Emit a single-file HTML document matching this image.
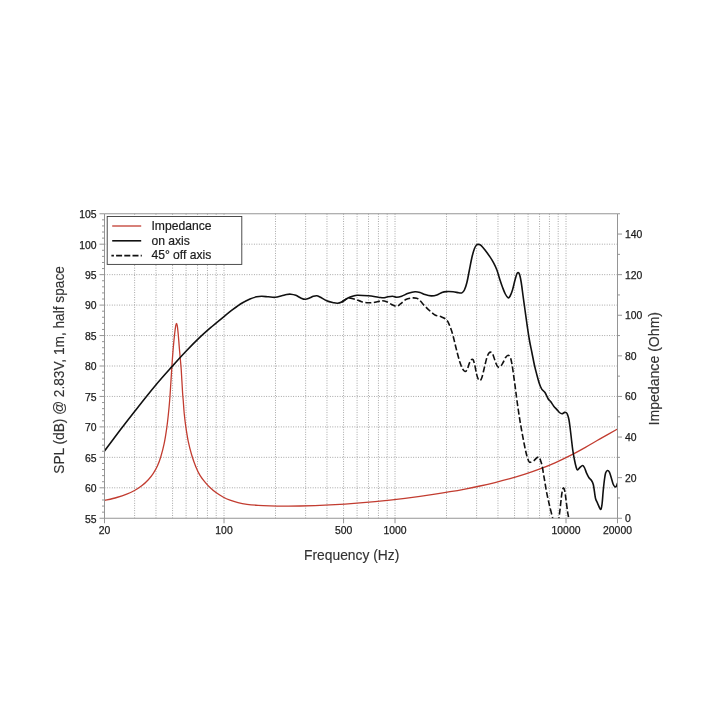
<!DOCTYPE html>
<html lang="en"><head><meta charset="utf-8"><title>Frequency response</title>
<style>html,body{margin:0;padding:0;background:#fff}body{width:720px;height:720px;overflow:hidden}svg{display:block}text{font-family:"Liberation Sans",Arial,Helvetica,sans-serif}.tk{font-size:10.4px;fill:#1c1c1c;stroke:#1c1c1c;stroke-width:0.25px}.lb{font-size:14.4px;fill:#333;stroke:#333;stroke-width:0.15px}.lg{font-size:12.15px;fill:#1c1c1c;stroke:#1c1c1c;stroke-width:0.2px}</style></head><body>
<svg width="720" height="720" viewBox="0 0 720 720">
<rect width="720" height="720" fill="#fff"/>
<defs><clipPath id="cp"><rect x="104.50" y="213.75" width="513.00" height="304.50"/></clipPath></defs>
<path d="M104.50 487.80H617.50M104.50 457.35H617.50M104.50 426.90H617.50M104.50 396.45H617.50M104.50 366.00H617.50M104.50 335.55H617.50M104.50 305.10H617.50M104.50 274.65H617.50M104.50 244.20H617.50M134.61 213.75V518.25M155.98 213.75V518.25M172.55 213.75V518.25M186.09 213.75V518.25M197.54 213.75V518.25M207.45 213.75V518.25M216.20 213.75V518.25M224.02 213.75V518.25M275.50 213.75V518.25M305.61 213.75V518.25M326.98 213.75V518.25M343.55 213.75V518.25M357.09 213.75V518.25M368.54 213.75V518.25M378.45 213.75V518.25M387.20 213.75V518.25M395.02 213.75V518.25M446.50 213.75V518.25M476.61 213.75V518.25M497.98 213.75V518.25M514.55 213.75V518.25M528.09 213.75V518.25M539.54 213.75V518.25M549.45 213.75V518.25M558.20 213.75V518.25M566.02 213.75V518.25" stroke="#838383" stroke-width="0.78" stroke-dasharray="0.9 1.55" fill="none"/>
<g clip-path="url(#cp)" fill="none" stroke-linejoin="round">
<path d="M104.50 500.50C106.53 500.00 113.00 498.55 116.70 497.50C120.40 496.45 123.73 495.37 126.70 494.20C129.67 493.03 132.00 491.90 134.50 490.50C137.00 489.10 139.40 487.60 141.70 485.80C144.00 484.00 146.37 481.78 148.30 479.70C150.23 477.62 151.77 475.62 153.30 473.30C154.83 470.98 156.25 468.57 157.50 465.80C158.75 463.03 159.68 460.45 160.80 456.70C161.92 452.95 163.22 448.03 164.20 443.30C165.18 438.57 166.02 433.02 166.70 428.30C167.38 423.58 167.80 419.72 168.30 415.00C168.80 410.28 169.27 405.50 169.70 400.00C170.13 394.50 170.50 388.12 170.90 382.00C171.30 375.88 171.70 369.05 172.10 363.30C172.50 357.55 172.88 352.35 173.30 347.50C173.72 342.65 174.20 337.82 174.60 334.20C175.00 330.58 175.38 327.62 175.70 325.80C176.02 323.98 176.23 323.30 176.50 323.30C176.77 323.30 177.00 323.85 177.30 325.80C177.60 327.75 177.97 331.38 178.30 335.00C178.63 338.62 178.95 343.33 179.30 347.50C179.65 351.67 180.08 356.25 180.40 360.00C180.72 363.75 180.88 364.50 181.25 370.00C181.62 375.50 182.28 388.00 182.60 393.00C182.92 398.00 182.93 396.62 183.20 400.00C183.47 403.38 183.77 408.85 184.20 413.30C184.63 417.75 185.12 421.97 185.80 426.70C186.48 431.43 187.32 436.98 188.30 441.70C189.28 446.42 190.45 450.83 191.70 455.00C192.95 459.17 194.42 463.30 195.80 466.70C197.18 470.10 198.47 472.85 200.00 475.41C201.53 477.97 203.33 480.07 205.00 482.08C206.67 484.09 208.17 485.74 210.00 487.49C211.83 489.24 213.83 491.01 216.00 492.60C218.17 494.19 220.67 495.77 223.00 497.04C225.33 498.31 227.50 499.28 230.00 500.21C232.50 501.14 235.17 501.95 238.00 502.63C240.83 503.31 243.67 503.83 247.00 504.28C250.33 504.73 254.17 505.07 258.00 505.33C261.83 505.59 265.50 505.72 270.00 505.84C274.50 505.96 280.00 506.04 285.00 506.06C290.00 506.08 295.00 506.06 300.00 505.98C305.00 505.90 310.00 505.77 315.00 505.60C320.00 505.43 325.00 505.21 330.00 504.96C335.00 504.70 340.00 504.40 345.00 504.07C350.00 503.74 355.00 503.37 360.00 502.96C365.00 502.55 370.00 502.10 375.00 501.62C380.00 501.14 385.00 500.63 390.00 500.08C395.00 499.53 400.00 498.94 405.00 498.32C410.00 497.70 415.00 497.05 420.00 496.35C425.00 495.66 430.00 494.92 435.00 494.15C440.00 493.38 445.00 492.58 450.00 491.72C455.00 490.87 460.00 489.97 465.00 489.02C470.00 488.07 475.00 487.08 480.00 486.01C485.00 484.94 490.00 483.81 495.00 482.59C500.00 481.37 505.00 480.10 510.00 478.70C515.00 477.30 520.00 475.82 525.00 474.20C530.00 472.58 535.00 470.85 540.00 468.96C545.00 467.06 550.00 465.04 555.00 462.83C560.00 460.62 565.00 458.22 570.00 455.67C575.00 453.12 580.00 450.35 585.00 447.56C590.00 444.77 594.58 442.00 600.00 438.91C605.42 435.82 614.58 430.65 617.50 429.00" stroke="#c23c30" stroke-width="1.3"/>
<path d="M104.50 451.00C107.08 447.55 115.02 436.85 120.00 430.30C124.98 423.75 128.57 419.08 134.40 411.70C140.23 404.32 148.73 393.52 155.00 386.00C161.27 378.48 166.83 372.38 172.00 366.60C177.17 360.82 181.33 356.20 186.00 351.30C190.67 346.40 195.67 341.33 200.00 337.20C204.33 333.07 208.05 329.90 212.00 326.50C215.95 323.10 220.15 319.68 223.70 316.80C227.25 313.92 230.30 311.45 233.30 309.20C236.30 306.95 238.92 305.00 241.70 303.30C244.48 301.60 247.50 300.08 250.00 299.00C252.50 297.92 254.75 297.25 256.70 296.80C258.65 296.35 259.77 296.30 261.70 296.30C263.63 296.30 266.03 296.63 268.30 296.80C270.57 296.97 273.07 297.47 275.30 297.30C277.53 297.13 279.80 296.27 281.70 295.80C283.60 295.33 285.18 294.77 286.70 294.50C288.22 294.23 289.28 294.07 290.80 294.20C292.32 294.33 294.13 294.67 295.80 295.30C297.47 295.93 299.22 297.33 300.80 298.00C302.38 298.67 303.77 299.33 305.30 299.30C306.83 299.27 308.67 298.30 310.00 297.80C311.33 297.30 312.18 296.65 313.30 296.30C314.42 295.95 315.58 295.58 316.70 295.70C317.82 295.82 318.33 296.15 320.00 297.00C321.67 297.85 324.48 299.85 326.70 300.80C328.92 301.75 331.50 302.28 333.30 302.70C335.10 303.12 336.10 303.42 337.50 303.30C338.90 303.18 340.03 302.83 341.70 302.00C343.37 301.17 345.57 299.30 347.50 298.30C349.43 297.30 351.68 296.50 353.30 296.00C354.92 295.50 354.70 295.33 357.20 295.30C359.70 295.27 364.78 295.48 368.30 295.80C371.82 296.12 375.80 296.87 378.30 297.20C380.80 297.53 381.85 297.83 383.30 297.80C384.75 297.77 385.47 297.25 387.00 297.00C388.53 296.75 390.88 296.25 392.50 296.30C394.12 296.35 395.17 297.32 396.70 297.30C398.23 297.28 399.77 296.87 401.70 296.20C403.63 295.53 406.08 294.05 408.30 293.30C410.52 292.55 413.05 291.85 415.00 291.70C416.95 291.55 418.33 291.92 420.00 292.40C421.67 292.88 423.12 294.02 425.00 294.60C426.88 295.18 429.27 295.83 431.25 295.90C433.23 295.97 435.12 295.57 436.90 295.00C438.67 294.43 440.30 293.07 441.90 292.50C443.50 291.93 444.63 291.73 446.50 291.60C448.37 291.48 451.06 291.56 453.10 291.75C455.14 291.94 457.28 292.56 458.75 292.75C460.22 292.94 460.96 293.36 461.90 292.90C462.84 292.44 463.57 291.73 464.40 290.00C465.23 288.27 466.07 285.83 466.90 282.50C467.73 279.17 468.57 274.17 469.40 270.00C470.23 265.83 471.07 261.04 471.90 257.50C472.73 253.96 473.63 250.83 474.40 248.75C475.17 246.67 475.77 245.72 476.50 245.00C477.23 244.28 477.96 244.30 478.75 244.40C479.54 244.50 480.21 244.67 481.25 245.60C482.29 246.53 483.54 248.12 485.00 250.00C486.46 251.88 488.54 254.72 490.00 256.90C491.46 259.08 492.60 260.92 493.75 263.10C494.90 265.28 495.86 267.18 496.90 270.00C497.94 272.82 499.07 277.13 500.00 280.00C500.93 282.87 501.62 284.87 502.50 287.20C503.38 289.53 504.37 292.23 505.30 294.00C506.23 295.77 507.32 297.43 508.10 297.80C508.88 298.18 509.27 297.55 510.00 296.25C510.73 294.95 511.67 292.71 512.50 290.00C513.33 287.29 514.27 282.71 515.00 280.00C515.73 277.29 516.38 275.00 516.90 273.75C517.42 272.50 517.65 272.39 518.10 272.50C518.55 272.61 519.08 272.73 519.60 274.40C520.12 276.07 520.67 278.86 521.25 282.50C521.83 286.14 522.48 291.67 523.10 296.25C523.73 300.83 524.37 305.42 525.00 310.00C525.63 314.58 526.17 318.75 526.90 323.75C527.63 328.75 528.57 335.21 529.40 340.00C530.23 344.79 531.07 348.33 531.90 352.50C532.73 356.67 533.57 361.25 534.40 365.00C535.23 368.75 536.07 371.88 536.90 375.00C537.73 378.12 538.57 381.35 539.40 383.75C540.23 386.15 540.97 387.94 541.90 389.40C542.83 390.86 543.97 390.94 545.00 392.50C546.03 394.06 547.17 397.25 548.10 398.75C549.03 400.25 549.66 400.25 550.60 401.50C551.54 402.75 552.70 404.90 553.75 406.25C554.80 407.60 555.96 408.56 556.90 409.60C557.84 410.64 558.55 411.82 559.40 412.50C560.25 413.18 561.13 413.72 562.00 413.70C562.87 413.68 563.89 412.57 564.60 412.40C565.31 412.23 565.77 412.35 566.25 412.70C566.73 413.05 567.06 413.37 567.50 414.50C567.94 415.63 568.48 417.42 568.90 419.50C569.32 421.58 569.61 424.00 570.00 427.00C570.39 430.00 570.79 433.67 571.25 437.50C571.71 441.33 572.21 446.25 572.75 450.00C573.29 453.75 573.96 457.25 574.50 460.00C575.04 462.75 575.50 464.83 576.00 466.50C576.50 468.17 576.83 469.85 577.50 470.00C578.17 470.15 579.17 468.15 580.00 467.40C580.83 466.65 581.77 465.48 582.50 465.50C583.23 465.52 583.70 466.18 584.40 467.50C585.10 468.82 585.93 471.68 586.70 473.40C587.47 475.12 588.20 476.62 589.00 477.80C589.80 478.98 590.78 479.38 591.50 480.50C592.22 481.62 592.82 482.71 593.30 484.50C593.78 486.29 594.02 488.88 594.40 491.25C594.78 493.62 595.08 496.77 595.60 498.75C596.12 500.73 596.87 501.64 597.50 503.10C598.13 504.56 598.83 506.45 599.40 507.50C599.97 508.55 600.45 510.02 600.90 509.40C601.35 508.77 601.73 506.65 602.10 503.75C602.47 500.85 602.72 495.96 603.10 492.00C603.48 488.04 603.98 483.15 604.40 480.00C604.82 476.85 605.08 474.68 605.60 473.10C606.12 471.52 606.87 470.65 607.50 470.50C608.13 470.35 608.77 470.98 609.40 472.20C610.02 473.42 610.63 475.83 611.25 477.80C611.87 479.77 612.48 482.48 613.10 484.00C613.73 485.52 614.43 486.57 615.00 486.90C615.57 487.23 616.08 486.63 616.50 486.00C616.92 485.37 617.33 483.58 617.50 483.10" stroke="#111" stroke-width="1.6"/>
<path d="M341.70 302.00C342.67 301.38 346.25 298.97 347.50 298.30C348.75 297.63 347.95 297.85 349.20 298.00C350.45 298.15 352.92 298.58 355.00 299.20C357.08 299.82 359.48 301.12 361.70 301.70C363.92 302.28 366.08 302.60 368.30 302.70C370.52 302.80 372.77 302.62 375.00 302.30C377.23 301.98 379.75 300.90 381.70 300.80C383.65 300.70 385.03 301.08 386.70 301.70C388.37 302.32 390.03 303.75 391.70 304.50C393.37 305.25 395.18 306.33 396.70 306.20C398.22 306.07 399.28 304.82 400.80 303.70C402.32 302.58 403.98 300.45 405.80 299.50C407.62 298.55 409.88 298.20 411.70 298.00C413.52 297.80 415.32 297.87 416.70 298.30C418.08 298.73 418.62 299.28 420.00 300.60C421.38 301.93 423.33 304.52 425.00 306.25C426.67 307.98 428.33 309.54 430.00 311.00C431.67 312.46 433.12 314.03 435.00 315.00C436.88 315.97 439.33 316.02 441.25 316.80C443.17 317.58 445.14 318.33 446.50 319.70C447.86 321.07 448.40 322.66 449.40 325.00C450.40 327.34 451.57 330.62 452.50 333.75C453.43 336.88 454.17 340.42 455.00 343.75C455.83 347.08 456.67 350.62 457.50 353.75C458.33 356.88 459.17 360.00 460.00 362.50C460.83 365.00 461.67 367.25 462.50 368.75C463.33 370.25 464.21 371.39 465.00 371.50C465.79 371.61 466.52 370.80 467.25 369.40C467.98 368.00 468.73 364.71 469.40 363.10C470.07 361.49 470.63 360.31 471.25 359.75C471.87 359.19 472.52 358.88 473.10 359.75C473.68 360.62 474.18 362.67 474.75 365.00C475.32 367.33 475.94 371.46 476.50 373.75C477.06 376.04 477.52 377.61 478.10 378.75C478.68 379.89 479.37 380.81 480.00 380.60C480.63 380.39 481.17 379.68 481.90 377.50C482.63 375.32 483.57 370.83 484.40 367.50C485.23 364.17 486.13 359.90 486.90 357.50C487.67 355.10 488.32 353.98 489.00 353.10C489.68 352.23 490.32 351.93 491.00 352.25C491.68 352.57 492.33 353.29 493.10 355.00C493.87 356.71 494.80 360.52 495.60 362.50C496.40 364.48 497.07 366.27 497.90 366.90C498.73 367.52 499.73 366.98 500.60 366.25C501.47 365.52 502.27 363.96 503.10 362.50C503.93 361.04 504.77 358.71 505.60 357.50C506.43 356.29 507.30 355.25 508.10 355.25C508.90 355.25 509.77 356.08 510.40 357.50C511.03 358.92 511.45 361.42 511.90 363.75C512.35 366.08 512.68 368.62 513.10 371.50C513.52 374.38 513.98 377.92 514.40 381.00C514.82 384.08 515.18 386.83 515.60 390.00C516.02 393.17 516.42 396.46 516.90 400.00C517.38 403.54 517.94 407.50 518.50 411.25C519.06 415.00 519.62 418.75 520.25 422.50C520.88 426.25 521.56 430.00 522.25 433.75C522.94 437.50 523.69 441.54 524.40 445.00C525.11 448.46 525.77 451.79 526.50 454.50C527.23 457.21 528.10 459.95 528.75 461.25C529.40 462.55 529.57 462.38 530.40 462.30C531.23 462.23 532.70 461.53 533.75 460.80C534.80 460.07 535.87 458.52 536.70 457.90C537.53 457.28 538.13 456.75 538.75 457.10C539.37 457.45 539.84 458.55 540.40 460.00C540.96 461.45 541.58 463.47 542.10 465.80C542.62 468.13 543.05 471.38 543.50 474.00C543.95 476.62 544.34 478.75 544.80 481.50C545.26 484.25 545.77 487.83 546.25 490.50C546.73 493.17 547.18 495.08 547.70 497.50C548.23 499.92 548.60 501.67 549.40 505.00C550.20 508.33 551.80 514.67 552.50 517.50C553.20 520.33 553.42 521.25 553.60 522.00" stroke="#111" stroke-width="1.6" stroke-dasharray="6 2.5"/>
<path d="M558.50 523.00C558.58 522.17 558.71 520.58 559.00 518.00C559.29 515.42 559.85 511.00 560.25 507.50C560.65 504.00 561.06 499.75 561.40 497.00C561.74 494.25 561.98 492.50 562.30 491.00C562.62 489.50 562.97 488.30 563.30 488.00C563.63 487.70 563.98 488.28 564.30 489.20C564.62 490.12 564.90 491.62 565.20 493.50C565.50 495.38 565.72 497.54 566.10 500.50C566.48 503.46 567.10 508.50 567.50 511.25C567.90 514.00 568.18 515.04 568.50 517.00C568.82 518.96 569.25 522.00 569.40 523.00" stroke="#111" stroke-width="1.6" stroke-dasharray="6 2.5"/>
</g>
<path d="M104.50 213.75H617.50V518.25H104.50ZM104.50 518.25h-5.00M104.50 512.16h-2.50M104.50 506.07h-2.50M104.50 499.98h-2.50M104.50 493.89h-2.50M104.50 487.80h-5.00M104.50 481.71h-2.50M104.50 475.62h-2.50M104.50 469.53h-2.50M104.50 463.44h-2.50M104.50 457.35h-5.00M104.50 451.26h-2.50M104.50 445.17h-2.50M104.50 439.08h-2.50M104.50 432.99h-2.50M104.50 426.90h-5.00M104.50 420.81h-2.50M104.50 414.72h-2.50M104.50 408.63h-2.50M104.50 402.54h-2.50M104.50 396.45h-5.00M104.50 390.36h-2.50M104.50 384.27h-2.50M104.50 378.18h-2.50M104.50 372.09h-2.50M104.50 366.00h-5.00M104.50 359.91h-2.50M104.50 353.82h-2.50M104.50 347.73h-2.50M104.50 341.64h-2.50M104.50 335.55h-5.00M104.50 329.46h-2.50M104.50 323.37h-2.50M104.50 317.28h-2.50M104.50 311.19h-2.50M104.50 305.10h-5.00M104.50 299.01h-2.50M104.50 292.92h-2.50M104.50 286.83h-2.50M104.50 280.74h-2.50M104.50 274.65h-5.00M104.50 268.56h-2.50M104.50 262.47h-2.50M104.50 256.38h-2.50M104.50 250.29h-2.50M104.50 244.20h-5.00M104.50 238.11h-2.50M104.50 232.02h-2.50M104.50 225.93h-2.50M104.50 219.84h-2.50M104.50 213.75h-5.00M617.50 518.25h4.50M617.50 497.95h2.50M617.50 477.65h4.50M617.50 457.35h2.50M617.50 437.05h4.50M617.50 416.75h2.50M617.50 396.45h4.50M617.50 376.15h2.50M617.50 355.85h4.50M617.50 335.55h2.50M617.50 315.25h4.50M617.50 294.95h2.50M617.50 274.65h4.50M617.50 254.35h2.50M617.50 234.05h4.50M617.50 213.75h2.50M104.50 518.25v5M224.02 518.25v5M343.55 518.25v5M395.02 518.25v5M566.02 518.25v5M617.50 518.25v5" stroke="#8f8f8f" stroke-width="0.95" fill="none"/>
<text class="tk" x="96.5" y="522.55" text-anchor="end">55</text>
<text class="tk" x="96.5" y="492.10" text-anchor="end">60</text>
<text class="tk" x="96.5" y="461.65" text-anchor="end">65</text>
<text class="tk" x="96.5" y="431.20" text-anchor="end">70</text>
<text class="tk" x="96.5" y="400.75" text-anchor="end">75</text>
<text class="tk" x="96.5" y="370.30" text-anchor="end">80</text>
<text class="tk" x="96.5" y="339.85" text-anchor="end">85</text>
<text class="tk" x="96.5" y="309.40" text-anchor="end">90</text>
<text class="tk" x="96.5" y="278.95" text-anchor="end">95</text>
<text class="tk" x="96.5" y="248.50" text-anchor="end">100</text>
<text class="tk" x="96.5" y="218.05" text-anchor="end">105</text>
<text class="tk" x="624.9" y="522.20">0</text>
<text class="tk" x="624.9" y="481.60">20</text>
<text class="tk" x="624.9" y="441.00">40</text>
<text class="tk" x="624.9" y="400.40">60</text>
<text class="tk" x="624.9" y="359.80">80</text>
<text class="tk" x="624.9" y="319.20">100</text>
<text class="tk" x="624.9" y="278.60">120</text>
<text class="tk" x="624.9" y="238.00">140</text>
<text class="tk" x="104.50" y="534.1" text-anchor="middle">20</text>
<text class="tk" x="224.02" y="534.1" text-anchor="middle">100</text>
<text class="tk" x="343.55" y="534.1" text-anchor="middle">500</text>
<text class="tk" x="395.02" y="534.1" text-anchor="middle">1000</text>
<text class="tk" x="566.02" y="534.1" text-anchor="middle">10000</text>
<text class="tk" x="617.50" y="534.1" text-anchor="middle">20000</text>
<text class="lb" x="351.7" y="559.5" text-anchor="middle" textLength="95.3" lengthAdjust="spacingAndGlyphs">Frequency (Hz)</text>
<text class="lb" transform="translate(64.3 369.9) rotate(-90)" text-anchor="middle" textLength="207.5" lengthAdjust="spacingAndGlyphs">SPL (dB) @ 2.83V, 1m, half space</text>
<text class="lb" transform="translate(658.6 368.7) rotate(-90)" text-anchor="middle" textLength="113.5" lengthAdjust="spacingAndGlyphs">Impedance (Ohm)</text>
<rect x="107.2" y="216.5" width="134.6" height="47.9" fill="#fff" stroke="#3a3a3a" stroke-width="0.9"/>
<path d="M112.2 226H141.2" stroke="#c23c30" stroke-width="1.3"/>
<path d="M112.2 240.8H141.2" stroke="#111" stroke-width="1.6"/>
<path d="M111.4 255.6H141.8" stroke="#111" stroke-width="1.6" stroke-dasharray="6 2.2" stroke-dashoffset="3.5"/>
<text class="lg" x="151.4" y="230.3">Impedance</text>
<text class="lg" x="151.4" y="244.9">on axis</text>
<text class="lg" x="151.4" y="259.3">45° off axis</text>
</svg></body></html>
